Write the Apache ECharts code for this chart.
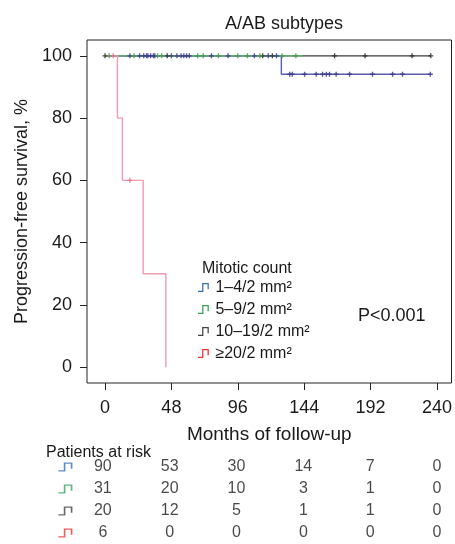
<!DOCTYPE html>
<html>
<head>
<meta charset="utf-8">
<script src="https://cdn.jsdelivr.net/npm/echarts@6/dist/echarts.min.js"></script>
<style>
  html, body { margin: 0; padding: 0; background: #fff; }
  #chart { width: 455px; height: 544px; }
</style>
</head>
<body>
<div id="chart"></div>
<script>
// tick labels
var xTicks = [0, 48, 96, 144, 192, 240];
var yTicks = [0, 20, 40, 60, 80, 100];

// group names
var groupNames = ['1–4/2 mm²', '5–9/2 mm²', '10–19/2 mm²', '≥20/2 mm²'];

// survival curves, [month, %]
var curveBlue = [[0, 100], [127.5, 94.1], [235.2, 94.1]];
var curveGreen = [[0, 100], [143, 100]];
var curveBlack = [[0, 100], [235.5, 100]];
var curveRed = [[0, 100], [9, 80], [12.6, 60], [27.6, 30], [44, 0]];

// censored observations, [month, %]
var censorBlue = [[18, 100], [25, 100], [28, 100], [30, 100], [31, 100], [33, 100], [35, 100], [36, 100],
  [48, 100], [52, 100], [55, 100], [57, 100], [59, 100], [61, 100], [77, 100], [89, 100], [108, 100],
  [118, 100], [124, 100],
  [133.5, 94.1], [135.4, 94.1], [144.3, 94.1], [152.7, 94.1], [157.3, 94.1], [160, 94.1], [162.3, 94.1],
  [167.1, 94.1], [176.8, 94.1], [193.4, 94.1], [207.9, 94.1], [215.1, 94.1], [235.2, 94.1]];
var censorGreen = [[3, 100], [21, 100], [38, 100], [41, 100], [67, 100], [71, 100], [82, 100], [96, 100],
  [103, 100], [112, 100], [128, 100], [138, 100]];
var censorBlack = [[0, 100], [45, 100], [114, 100], [121, 100], [166, 100], [188, 100], [222, 100], [235.5, 100]];
var censorRed = [[6, 100], [18, 60]];

// patients at risk at each x tick
var riskBlue = [90, 53, 30, 14, 7, 0];
var riskGreen = [31, 20, 10, 3, 1, 0];
var riskBlack = [20, 12, 5, 1, 1, 0];
var riskRed = [6, 0, 0, 0, 0, 0];

var lineColors = ['#5b5bb0', '#62bf6e', '#3c3c3c', '#f39ab0'];
var markColors = ['#3a3a8e', '#3f9a52', '#2c2c2c', '#e0708a'];
var iconColors = ['#3a6db8', '#35a457', '#444444', '#ee3030'];

var stepIcon = 'path://M0,8.6L4.6,8.6L4.6,0L12,0L12,7L10.6,7L10.6,1.4L6,1.4L6,10L0,10Z';
var plusIcon = 'path://M0,2.2L6,2.2L6,3.8L0,3.8Z M2.2,0L3.8,0L3.8,6L2.2,6Z';

var myChart = echarts.init(document.getElementById('chart'), null, { renderer: 'canvas' });

var curves = [curveBlack, curveBlue, curveGreen, curveRed];
var curveIdx = [2, 0, 1, 3];
var censors = [censorBlack, censorBlue, censorGreen, censorRed];
var risks = [riskBlue, riskGreen, riskBlack, riskRed];

var series = [];
curves.forEach(function(c, i) {
  var g = curveIdx[i];
  series.push({
    name: groupNames[g],
    type: 'line',
    step: 'end',
    xAxisIndex: 0, yAxisIndex: 0,
    data: c,
    symbol: 'none',
    lineStyle: { color: lineColors[g], width: 1.4 },
    itemStyle: { color: lineColors[g] },
    z: 2 + i
  });
});
censors.forEach(function(c, i) {
  var g = curveIdx[i];
  series.push({
    type: 'scatter',
    xAxisIndex: 0, yAxisIndex: 0,
    data: c,
    symbol: plusIcon,
    symbolSize: 5,
    itemStyle: { color: markColors[g], opacity: 0.85 },
    z: 10
  });
});

// patients at risk table: x = column index, y = row index
risks.forEach(function(r, row) {
  series.push({
    type: 'scatter',
    xAxisIndex: 1, yAxisIndex: 1,
    data: r.map(function(v, col) { return [col, row, v]; }),
    symbolSize: 1,
    itemStyle: { color: 'rgba(0,0,0,0)' },
    label: {
      show: true,
      position: 'inside',
      formatter: function(p) { return p.value[2]; },
      color: '#1a1a1a',
      fontSize: 16,
      fontFamily: 'Liberation Sans'
    }
  });
  series.push({
    type: 'scatter',
    xAxisIndex: 1, yAxisIndex: 1,
    data: [[-0.56, row]],
    symbol: stepIcon,
    symbolSize: [14, 9],
    itemStyle: { color: iconColors[row] }
  });
});

var font = 'Liberation Sans';

var option = {
  animation: false,
  backgroundColor: '#fff',
  textStyle: { fontFamily: font },
  title: [
    { text: 'A/AB subtypes', left: 279, top: 10, textAlign: 'center',
      textStyle: { fontSize: 18, fontWeight: 'normal', color: '#1a1a1a', fontFamily: font } },
    { text: 'Mitotic count', left: 197, top: 256,
      textStyle: { fontSize: 16, fontWeight: 'normal', color: '#1a1a1a', fontFamily: font } },
    { text: 'P<0.001', left: 353, top: 302,
      textStyle: { fontSize: 18, fontWeight: 'normal', color: '#1a1a1a', fontFamily: font } },
    { text: 'Patients at risk', left: 41, top: 440,
      textStyle: { fontSize: 16, fontWeight: 'normal', color: '#1a1a1a', fontFamily: font } }
  ],
  legend: {
    orient: 'vertical',
    left: 198,
    top: 279,
    padding: 0,
    itemGap: 5,
    itemWidth: 14,
    itemHeight: 9,
    icon: stepIcon,
    selectedMode: false,
    textStyle: { fontSize: 16, lineHeight: 17, color: '#1a1a1a', fontFamily: font, padding: [0, 0, 0, 0] },
    data: groupNames.map(function(n, i) {
      return { name: n, itemStyle: { color: iconColors[i] } };
    })
  },
  grid: [
    { left: 87, right: 2, top: 40, bottom: 161, show: true, borderColor: '#222', borderWidth: 1 },
    { left: 36, right: 18, top: 467, bottom: 11 }
  ],
  xAxis: [
    {
      type: 'value', gridIndex: 0, min: -13, max: 250.5,
      name: 'Months of follow-up', nameLocation: 'middle', nameGap: 42,
      nameTextStyle: { fontSize: 19, color: '#1a1a1a', fontFamily: font },
      axisLine: { show: false, onZero: false },
      axisTick: { show: true, length: 7, customValues: xTicks, lineStyle: { color: '#222' } },
      axisLabel: { customValues: xTicks, margin: 16, fontSize: 18, color: '#1a1a1a', fontFamily: font },
      splitLine: { show: false }
    },
    {
      type: 'value', gridIndex: 1, min: -1, max: 5, show: false
    }
  ],
  yAxis: [
    {
      type: 'value', gridIndex: 0, min: -5.1, max: 105.1,
      name: 'Progression-free survival, %', nameLocation: 'middle', nameGap: 52,
      nameTextStyle: { fontSize: 18, color: '#1a1a1a', fontFamily: font },
      axisLine: { show: false, onZero: false },
      axisTick: { show: true, length: 7, customValues: yTicks, lineStyle: { color: '#222' } },
      axisLabel: { customValues: yTicks, margin: 15, fontSize: 18, color: '#1a1a1a', fontFamily: font },
      splitLine: { show: false }
    },
    {
      type: 'value', gridIndex: 1, min: 0, max: 3, inverse: true, show: false
    }
  ],
  series: series
};

myChart.setOption(option);
</script>
</body>
</html>
